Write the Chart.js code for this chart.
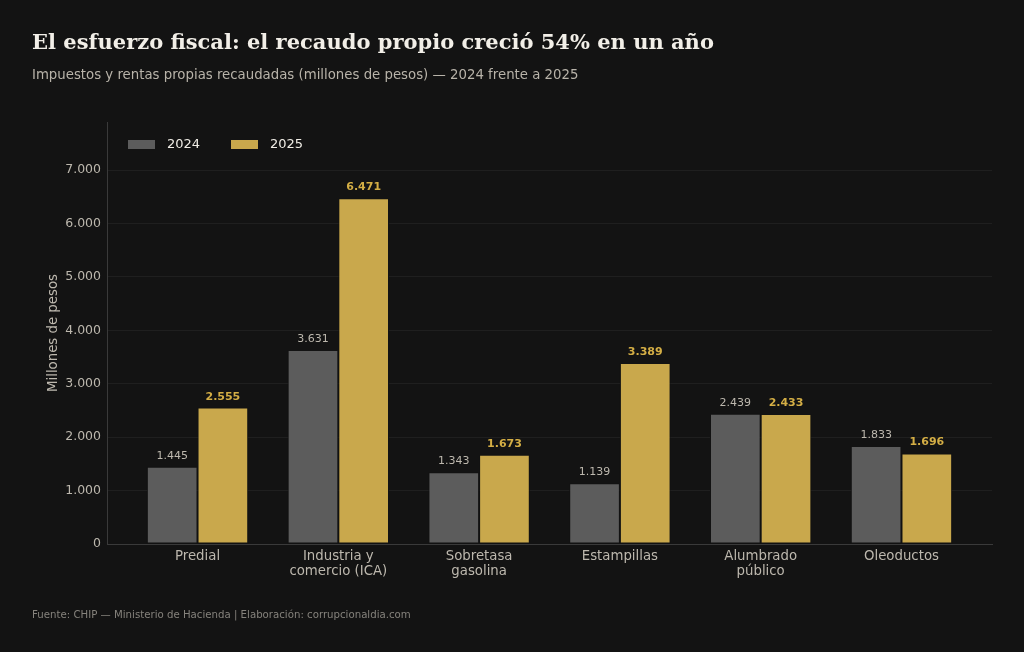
<!DOCTYPE html>
<html><head><meta charset="utf-8">
<script src="https://cdn.jsdelivr.net/npm/chart.js@4"></script>
<style>
html,body{margin:0;padding:0;background:#131313;width:1024px;height:652px;overflow:hidden;}
#title{position:absolute;left:32px;top:29px;font-family:"DejaVu Serif";font-weight:bold;font-size:21px;color:#f2efe8;white-space:nowrap;}
#sub{position:absolute;left:32px;top:67px;font-family:"DejaVu Sans";font-size:13.3px;color:#b8b3a9;white-space:nowrap;}
#foot{position:absolute;left:32px;top:609px;font-family:"DejaVu Sans";font-size:10.2px;color:#85827c;white-space:nowrap;}
#wrap{position:absolute;left:0;top:0;width:1024px;height:652px;}
</style></head>
<body>
<div id="wrap"><canvas id="c" width="1024" height="652"></canvas></div>
<div id="title">El esfuerzo fiscal: el recaudo propio creció 54% en un año</div>
<div id="sub">Impuestos y rentas propias recaudadas (millones de pesos) — 2024 frente a 2025</div>
<div id="foot">Fuente: CHIP — Ministerio de Hacienda | Elaboración: corrupcionaldia.com</div>
<script>
const categories = [["Predial"],["Industria y","comercio (ICA)"],["Sobretasa","gasolina"],["Estampillas"],["Alumbrado","público"],["Oleoductos"]];
const values2024 = [1445, 3631, 1343, 1139, 2439, 1833];
const values2025 = [2555, 6471, 1673, 3389, 2433, 1696];
const seriesNames = ["2024", "2025"];
const yTicks = [0, 1000, 2000, 3000, 4000, 5000, 6000, 7000];

const fmt = v => v.toString().replace(/\B(?=(\d{3})+(?!\d))/g, ".");
const C24 = "#5c5c5c", C25 = "#c9a84c";

const labelPlugin = {
  id: "labels",
  afterDatasetsDraw(chart) {
    const ctx = chart.ctx;
    ctx.save();
    ctx.textAlign = "center";
    ctx.textBaseline = "alphabetic";
    chart.data.datasets.forEach((ds, di) => {
      const meta = chart.getDatasetMeta(di);
      meta.data.forEach((bar, i) => {
        if (di === 0) { ctx.font = "11px 'DejaVu Sans'"; ctx.fillStyle = "#bdb8ae"; }
        else { ctx.font = "bold 11px 'DejaVu Sans'"; ctx.fillStyle = "#d4ae45"; }
        ctx.fillText(fmt(ds.data[i].y), bar.x, bar.y - 8);
      });
    });
    // legend
    const items = [[seriesNames[0], C24, 128], [seriesNames[1], C25, 231]];
    ctx.textAlign = "left";
    ctx.textBaseline = "middle";
    ctx.font = "13px 'DejaVu Sans'";
    items.forEach(([t, col, x]) => {
      ctx.fillStyle = col;
      ctx.fillRect(x, 140, 27, 9);
      ctx.fillStyle = "#f0ede6";
      ctx.fillText(t, x + 39, 145);
    });
    ctx.restore();
  }
};

new Chart(document.getElementById("c"), {
  type: "bar",
  data: {
    datasets: [
      { label: seriesNames[0], data: values2024.map((v, i) => ({x: i, y: v})), backgroundColor: C24, borderColor: "#131313", borderWidth: 1, barPercentage: 1, categoryPercentage: 0.72, borderSkipped: false },
      { label: seriesNames[1], data: values2025.map((v, i) => ({x: i, y: v})), backgroundColor: C25, borderColor: "#131313", borderWidth: 1, barPercentage: 1, categoryPercentage: 0.72, borderSkipped: false }
    ]
  },
  options: {
    responsive: false,
    animation: false,
    devicePixelRatio: 1,
    layout: { padding: { left: 46, right: 32, top: 122, bottom: 60 } },
    plugins: { legend: { display: false }, tooltip: { enabled: false } },
    scales: {
      x: {
        type: "linear",
        offset: false,
        min: -0.643, max: 5.643,
        afterBuildTicks: s => { s.ticks = categories.map((c, i) => ({ value: i })); },
        afterFit: s => { s.height = 48; },
        ticks: { callback: (v) => categories[Math.round(v)] || "", color: "#bdb8ae", font: { family: "DejaVu Sans", size: 13.3, lineHeight: 1.13 }, padding: 5, maxRotation: 0, autoSkip: false },
        grid: { display: false, drawTicks: false },
        border: { color: "#3a3a3a", width: 1 }
      },
      y: {
        min: 0, max: 7900,
        afterBuildTicks: s => { s.ticks = yTicks.map(v => ({ value: v })); },
        afterFit: s => { s.width = 61; },
        ticks: { callback: v => fmt(v), color: "#bdb8ae", font: { family: "DejaVu Sans", size: 12.5 }, padding: 6 },
        grid: { color: "#1f1f1f", drawTicks: false },
        border: { color: "#3a3a3a", width: 1 },
        title: { display: true, text: "Millones de pesos", color: "#bdb8ae", font: { family: "DejaVu Sans", size: 13.3 }, padding: 0 }
      }
    }
  },
  plugins: [labelPlugin]
});
</script>
</body></html>
